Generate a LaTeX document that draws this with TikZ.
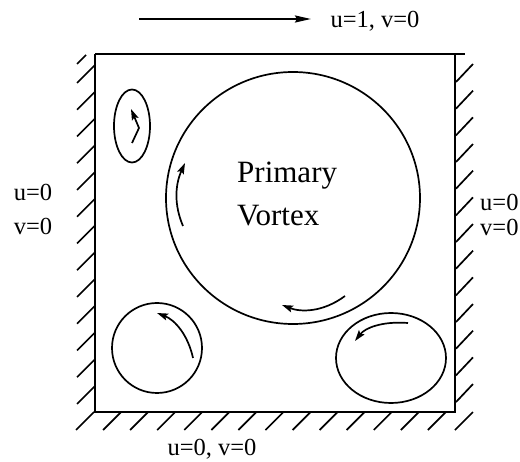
\documentclass[tikz,border=0pt]{standalone}
\usepackage{fontspec}
\setmainfont{Liberation Serif}
\usetikzlibrary{arrows.meta,shapes.geometric}

\begin{document}
\begin{tikzpicture}[
    x=1pt, y=-1pt,
    wall/.style={line width=2pt},
    hatch/.style={line width=1.7pt},
    vortex/.style={draw, ellipse, line width=1.7pt, inner sep=0pt},
    flow/.style={-{Stealth[length=11pt,width=7pt,inset=2pt]}, line width=1.7pt},
    lidarr/.style={-{Stealth[length=16pt,width=7pt,inset=2pt]}, line width=2pt},
    bc/.style={font=\fontsize{24.5}{29}\selectfont, inner sep=0pt},
    lbl/.style={font=\fontsize{31}{43}\selectfont, align=left, inner sep=0pt}
]
\useasboundingbox (0,0) rectangle (520,462);

% cavity
\coordinate (TL) at (95,54);
\coordinate (TR) at (455,54);
\coordinate (BL) at (95,412);
\coordinate (BR) at (455,412);
\coordinate (TX) at (465,54);
\draw[wall] (TL) -- (TX);
\draw[wall] (TL) -- (BL) -- (BR) -- (TR);

% hatching
\draw[hatch] (77,64) -- (86,55);
\foreach \k in {0,...,12}
  \draw[hatch] (77,{83+26.75*\k}) -- (95,{65+26.75*\k});
\foreach \k in {0,...,12}
  \draw[hatch] (456,{82+26.67*\k}) -- (473,{64+26.67*\k});
\foreach \k in {0,...,14}
  \draw[hatch] ({76+27.07*\k},430) -- ({94+27.07*\k},412);

% vortices
\node[vortex, minimum width=254pt, minimum height=252pt] (primary) at (293,198) {};
\node[vortex, minimum width=36pt, minimum height=73pt] (cornerTL) at (132,126) {};
\node[vortex, minimum width=90pt, minimum height=90pt] (cornerBL) at (157,348) {};
\node[vortex, minimum width=110pt, minimum height=90pt] (cornerBR) at (391,358) {};
\node[lbl, anchor=west] (title) at (237,194) {Primary\\Vortex};

% boundary conditions
\coordinate (lidS) at (139,19);
\coordinate (lidE) at (311,19);
\draw[lidarr] (lidS) -- (lidE);
\node[bc] (lid) at (375,21) {u=1, v=0};
\node[bc] (bottom) at (212,449) {u=0, v=0};
\node[bc] (leftU) at (33,192) {u=0};
\node[bc] (leftV) at (33,226) {v=0};
\node[bc, anchor=west] (rightU) at (480,202) {u=0};
\node[bc, anchor=west] (rightV) at (480,227) {v=0};

% rotation
\draw[flow] (132,143) -- (139,128) -- (131,109);
\draw[flow] (183,226) .. controls (174,205) and (175,185) .. (185,163);
\draw[flow] (345,296) .. controls (322,313) and (300,312) .. (282,305);
\draw[flow] (193,358) .. controls (188,335) and (175,320) .. (157,313);
\draw[flow] (408,323) .. controls (382,321) and (365,328) .. (355,341);
\end{tikzpicture}
\end{document}
